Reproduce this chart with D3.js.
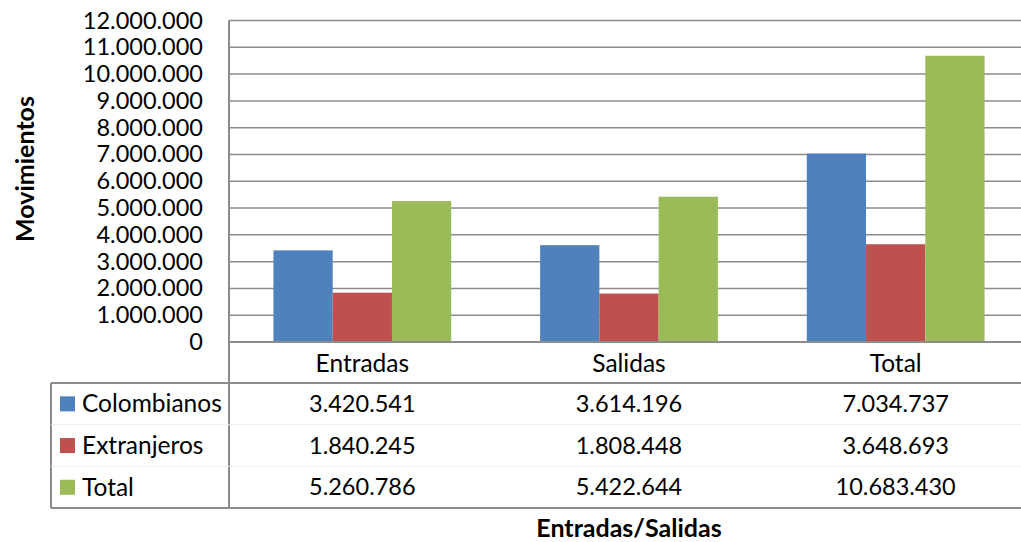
<!DOCTYPE html>
<html>
<head>
<meta charset="utf-8">
<script src="https://cdn.jsdelivr.net/npm/d3@7"></script>
<style>
  body { margin: 0; background: #fff; }
  svg { font-family: Lato, "Open Sans", sans-serif; }
</style>
</head>
<body>
<svg width="1021" height="542"></svg>
<script>
var categories = ["Entradas", "Salidas", "Total"];
var seriesNames = ["Colombianos", "Extranjeros", "Total"];
var colombianos = [3420541, 3614196, 7034737];
var extranjeros = [1840245, 1808448, 3648693];
var totales = [5260786, 5422644, 10683430];
var yTicks = [0, 1000000, 2000000, 3000000, 4000000, 5000000, 6000000,
              7000000, 8000000, 9000000, 10000000, 11000000, 12000000];

var colors = ["#4F81BD", "#C0504D", "#9BBB59"];
var series = [colombianos, extranjeros, totales];

var svg = d3.select("svg");

var locale = d3.formatLocale({decimal: ",", thousands: ".", grouping: [3], currency: ["", ""]});
var format = locale.format(",d");

var plotLeft = 229, plotRight = 1029, plotTop = 20.5, plotBottom = 342;
var tableLeft = 51, tableTop = 383, rowH = 41.7;

var x = d3.scaleBand()
    .domain(categories)
    .range([plotLeft, plotRight]);

var x1 = d3.scaleBand()
    .domain(d3.range(series.length))
    .range([0, x.bandwidth()])
    .paddingOuter(0.75);

var y = d3.scaleLinear()
    .domain([0, 12000000])
    .range([plotBottom, plotTop]);

// gridlines
svg.append("g")
  .selectAll("line")
  .data(yTicks.slice(1))
  .enter().append("line")
    .attr("x1", plotLeft)
    .attr("x2", plotRight)
    .attr("y1", function(d) { return y(d); })
    .attr("y2", function(d) { return y(d); })
    .attr("stroke", "#8c8c8c")
    .attr("stroke-width", 1.5);

// y axis labels
var yAxis = svg.append("g")
    .attr("transform", "translate(" + (plotLeft - 26) + ",0)")
    .call(d3.axisLeft(y).tickValues(yTicks).tickFormat(format).tickSize(0).tickPadding(0));
yAxis.select(".domain").remove();
yAxis.selectAll("text")
    .attr("font-size", 23.5)
    .attr("fill", "#000")
    .attr("font-family", "Lato, sans-serif");

// bars
var groups = svg.append("g")
  .selectAll("g")
  .data(series)
  .enter().append("g")
    .attr("fill", function(d, i) { return colors[i]; });

groups.selectAll("rect")
  .data(function(d, i) { return d.map(function(v, j) { return {s: i, c: categories[j], v: v}; }); })
  .enter().append("rect")
    .attr("x", function(d) { return x(d.c) + x1(d.s); })
    .attr("width", x1.bandwidth())
    .attr("y", function(d) { return y(d.v); })
    .attr("height", function(d) { return plotBottom - y(d.v); });

// frame lines
var lineColor = "#8c8c8c";
svg.append("line").attr("x1", plotLeft).attr("x2", plotRight)
    .attr("y1", plotBottom).attr("y2", plotBottom)
    .attr("stroke", lineColor).attr("stroke-width", 2);
svg.append("line").attr("x1", plotLeft).attr("x2", plotLeft)
    .attr("y1", plotTop).attr("y2", tableTop + 3 * rowH)
    .attr("stroke", lineColor).attr("stroke-width", 2);
svg.append("line").attr("x1", tableLeft).attr("x2", plotRight)
    .attr("y1", tableTop).attr("y2", tableTop)
    .attr("stroke", lineColor).attr("stroke-width", 2);
svg.append("line").attr("x1", tableLeft).attr("x2", plotRight)
    .attr("y1", tableTop + 3 * rowH).attr("y2", tableTop + 3 * rowH)
    .attr("stroke", lineColor).attr("stroke-width", 2);
svg.append("line").attr("x1", tableLeft).attr("x2", tableLeft)
    .attr("y1", tableTop).attr("y2", tableTop + 3 * rowH)
    .attr("stroke", lineColor).attr("stroke-width", 2);
[1, 2].forEach(function(r) {
  svg.append("line").attr("x1", tableLeft).attr("x2", plotRight)
      .attr("y1", tableTop + r * rowH).attr("y2", tableTop + r * rowH)
      .attr("stroke", "#f0f0f0").attr("stroke-width", 1);
});

// category labels
svg.append("g")
  .selectAll("text")
  .data(categories)
  .enter().append("text")
    .attr("x", function(d) { return x(d) + x.bandwidth() / 2; })
    .attr("y", (plotBottom + tableTop) / 2 + 1)
    .attr("dy", "0.35em")
    .attr("text-anchor", "middle")
    .attr("font-size", 24.5)
    .text(function(d) { return d; });

// data table rows
var rows = svg.append("g")
  .selectAll("g")
  .data(series)
  .enter().append("g")
    .attr("transform", function(d, i) { return "translate(0," + (tableTop + i * rowH + rowH / 2) + ")"; });

rows.append("rect")
    .attr("x", 60)
    .attr("y", -7.5)
    .attr("width", 15)
    .attr("height", 15)
    .attr("fill", function(d, i) { return colors[i]; });

rows.append("text")
    .attr("x", 82)
    .attr("dy", "0.35em")
    .attr("font-size", 24.5)
    .text(function(d, i) { return seriesNames[i]; });

rows.selectAll(".val")
  .data(function(d) { return d.map(function(v, j) { return {c: categories[j], v: v}; }); })
  .enter().append("text")
    .attr("class", "val")
    .attr("x", function(d) { return x(d.c) + x.bandwidth() / 2; })
    .attr("dy", "0.35em")
    .attr("text-anchor", "middle")
    .attr("font-size", 23.5)
    .text(function(d) { return format(d.v); });

// axis titles
svg.append("text")
    .attr("transform", "translate(25,169) rotate(-90)")
    .attr("text-anchor", "middle")
    .attr("dy", "0.35em")
    .attr("font-size", 25)
    .attr("font-weight", "bold")
    .text("Movimientos");

svg.append("text")
    .attr("x", 629)
    .attr("y", 528)
    .attr("dy", "0.35em")
    .attr("text-anchor", "middle")
    .attr("font-size", 25)
    .attr("font-weight", "bold")
    .text("Entradas/Salidas");
</script>
</body>
</html>
